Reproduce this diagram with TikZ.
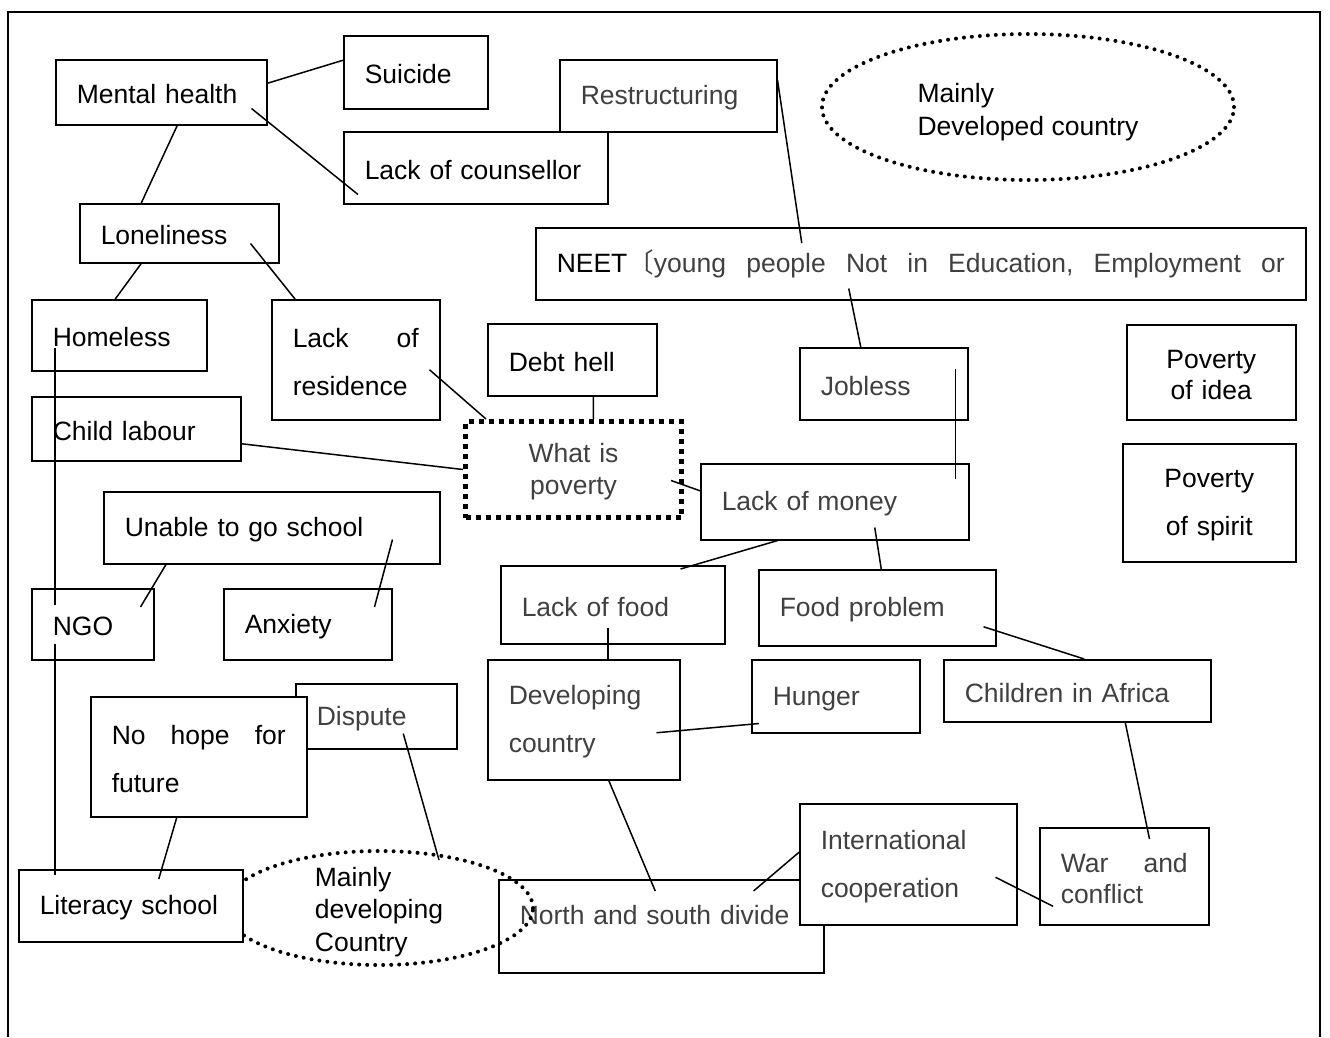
\documentclass[tikz,border=0pt]{standalone}
\usepackage{fontspec}
\setmainfont{Liberation Sans}
\newfontfamily\cjk{Noto Sans CJK SC}
\usepackage{tikz}
\usetikzlibrary{calc,shapes.geometric}
\definecolor{txtgray}{HTML}{404040}
\newcommand\boxfont{\fontsize{26.5}{32}\selectfont}
\newcommand\tightfont{\fontsize{26.5}{31}\selectfont}
\newcommand\wideboxfont{\fontsize{26.5}{48}\selectfont}
\newcommand\ovalfont{\fontsize{26.5}{32.5}\selectfont}
\tikzset{
  bx/.style={draw,line width=1.5pt,fill=white,anchor=north west,inner xsep=21pt,inner ysep=0pt,align=left,font=\boxfont,text height=23pt},
  widesp/.style={font=\wideboxfont},
  gr/.style={text=txtgray},
  dotbox/.style={bx,line width=5pt,dash pattern=on 5pt off 5pt,align=center},
  oval/.style={ellipse,draw,line width=4pt,dash pattern=on 0pt off 8pt,line cap=round,inner sep=0pt},
  ln/.style={line width=1.5pt}
}

\begin{document}
\begin{tikzpicture}[x=1pt,y=-1pt]
\useasboundingbox (0,0) rectangle (1330,1037);
\draw[line width=2pt] (8,1037) -- (8,12) -- (1320,12) -- (1320,1037);

% upper left
\node[bx,text width=169pt,minimum height=65pt] (mental) at (55,59) {Mental health};
\node[bx,text width=102pt,minimum height=73pt] (suicide) at (343,35) {Suicide};
\node[bx,gr,text width=175pt,minimum height=72pt] (restr) at (559,59) {Restructuring};
\node[bx,text width=222pt,minimum height=72pt] (couns) at (343,131) {Lack of counsellor};
\node[oval,minimum width=412pt,minimum height=146pt] (developed) at (1028,107) {};
\node[align=left,font=\ovalfont] (developed-t) at ($(developed.center)+(0,5)$) {Mainly\\Developed country};
\node[bx,text width=157pt,minimum height=59pt] (lonely) at (79,203) {Loneliness};
\node[bx,text width=728pt,minimum height=72pt] (neet) at (535,227)
  {\makebox[\linewidth]{NEET{\color{txtgray}\cjk 〔}\color{txtgray}young\hfill people\hfill Not\hfill in\hfill Education,\hfill Employment\hfill or}};
\node[bx,text width=133pt,minimum height=71pt] (homeless) at (31,299) {Homeless};
\node[bx,widesp,text width=126pt,minimum height=120pt] (residence) at (271,299) {\makebox[\linewidth]{Lack\hfill of}\\residence};
\node[bx,text width=127pt,minimum height=72pt] (debt) at (487,323) {Debt hell};
\node[bx,gr,text width=126pt,minimum height=72pt] (jobless) at (799,347) {Jobless};
\node[bx,align=center,font=\tightfont,text width=127pt,minimum height=95pt] (idea) at (1126,324) {Poverty\\of idea};

% middle
\node[bx,text width=167pt,minimum height=64pt] (child) at (31,396) {Child labour};
\node[dotbox,gr,text width=174pt,minimum height=96pt] (whatis) at (463,419) {What is\\poverty};
\node[bx,gr,text width=226pt,minimum height=76pt] (money) at (700,463) {Lack of money};
\node[bx,widesp,align=center,text width=131pt,minimum height=118pt] (spirit) at (1122,443) {Poverty\\of spirit};
\node[bx,text width=294pt,minimum height=72pt] (unable) at (103,491) {Unable to go school};
\node[bx,text width=80pt,minimum height=71pt] (ngo) at (31,588) {NGO};
\node[bx,text width=126pt,minimum height=71pt] (anxiety) at (223,588) {Anxiety};
\node[bx,gr,text width=182pt,minimum height=78pt] (food) at (500,565) {Lack of food};
\node[bx,gr,text width=195pt,minimum height=76pt] (foodprob) at (758,569) {Food problem};
\node[bx,gr,widesp,text width=150pt,minimum height=120pt] (devcountry) at (487,659) {Developing\\country};
\node[bx,gr,text width=126pt,minimum height=73pt] (hunger) at (751,659) {Hunger};
\node[bx,gr,text width=225pt,minimum height=62pt] (africa) at (943,659) {Children in Africa};

% lower part
\node[bx,gr,text width=119pt,minimum height=65pt] (dispute) at (295,683) {Dispute};
\node[bx,widesp,text width=174pt,minimum height=120pt] (nohope) at (90,696) {\makebox[\linewidth]{No\hfill hope\hfill for}\\future};
\node[bx,gr,text width=283pt,minimum height=93pt,text depth=27pt] (divide) at (498,879) {North and south divide};
\node[bx,gr,widesp,text width=175pt,minimum height=121pt] (coop) at (799,803) {International\\cooperation};
\node[bx,gr,font=\tightfont,text width=127pt,minimum height=97pt] (war) at (1039,827) {\makebox[\linewidth]{War\hfill and}\\conflict};
\node[oval,minimum width=308pt,minimum height=114pt] (devg) at (379,908) {};
\node[align=left,font=\ovalfont] (devg-t) at ($(devg.center)+(0,4)$) {Mainly\\developing\\Country};
\node[bx,text width=182pt,minimum height=72pt] (literacy) at (18,869) {Literacy school};

% links
\draw[ln] ($(mental.east)+(0,-9)$) -- ($(suicide.west)+(0,-12)$);
\draw[ln] ($(mental.south east)+(-16,-17)$) -- ($(couns.south west)+(15,-10)$);
\draw[ln] ($(mental.south)+(16,0)$) -- ($(lonely.north)+(-38,0)$);
\draw[ln] ($(lonely.south)+(-38,0)$) -- ($(homeless.north)+(-4,0)$);
\draw[ln] ($(lonely.south east)+(-29,-20)$) -- ($(residence.north west)+(24,0)$);
\draw[ln] ($(restr.north east)+(0,21)$) -- ($(neet.north)+(-119,16)$);
\draw[ln] ($(neet.south)+(-72,-12)$) -- ($(jobless.north)+(-23,0)$);
\draw[ln] ($(jobless.north east)+(-13,22)$) -- ($(money.north east)+(-14,16)$);
\draw[ln] ($(residence.east)+(-11,10)$) -- ($(whatis.north west)+(23,0)$);
\draw[ln] ($(debt.south)+(21,0)$) -- ($(whatis.north)+(20,0)$);
\draw[ln] ($(child.east)+(0,15)$) -- (whatis.west);
\draw[ln] ($(whatis.east)+(-13,11)$) -- ($(money.west)+(0,-11)$);
\draw[ln] ($(homeless.west)+(24,13)$) -- ($(ngo.north west)+(24,17)$);
\draw[ln] ($(ngo.south west)+(24,-17)$) -- ($(literacy.north west)+(37,6)$);
\draw[ln] ($(unable.south west)+(63,0)$) -- ($(ngo.north east)+(-14,19)$);
\draw[ln] ($(unable.south east)+(-48,-25)$) -- ($(anxiety.north east)+(-18,19)$);
\draw[ln] ($(money.south)+(-57,0)$) -- ($(food.north east)+(-45,4)$);
\draw[ln] ($(money.south)+(40,-13)$) -- ($(foodprob.north)+(4,0)$);
\draw[ln] ($(food.south)+(-5,-17)$) -- ($(devcountry.north)+(24,0)$);
\draw[ln] ($(devcountry.east)+(-24,13)$) -- ($(hunger.south west)+(8,-10)$);
\draw[ln] ($(foodprob.east)+(-13,19)$) -- ($(africa.north)+(7,0)$);
\draw[ln] ($(africa.south)+(48,0)$) -- ($(war.north east)+(-60,12)$);
\draw[ln] ($(devcountry.south)+(25,0)$) -- ($(divide.north)+(-6,12)$);
\draw[ln] ($(divide.north east)+(-71,12)$) -- ($(coop.west)+(0,-12)$);
\draw[ln] ($(coop.east)+(-22,13)$) -- ($(war.west)+(14,30)$);
\draw[ln] ($(nohope.south)+(-22,0)$) -- ($(literacy.north)+(28,10)$);
\draw[ln] ($(dispute.south)+(27,-16)$) -- ($(devg.north)+(60,11)$);
\end{tikzpicture}
\end{document}
